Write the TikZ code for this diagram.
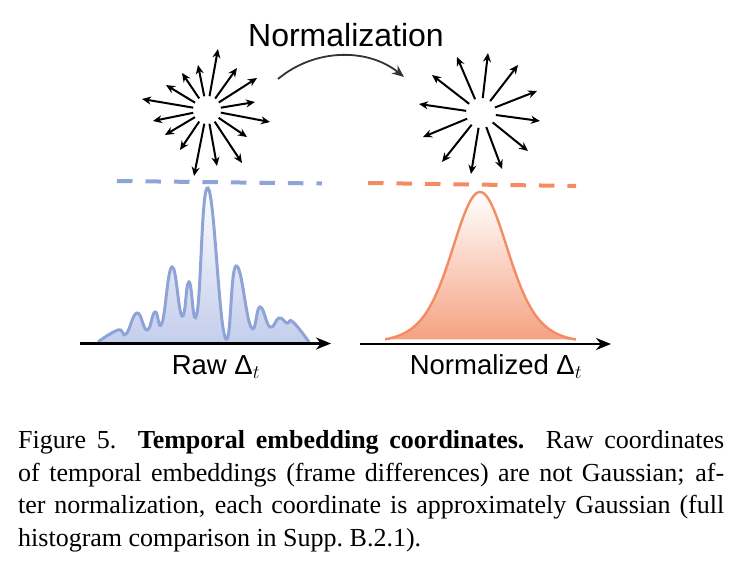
\documentclass[tikz,border=0pt]{standalone}
\usepackage{fix-cm}
\usepackage{fontspec}
\setmainfont{Liberation Serif}
\newfontfamily\labelsans{Liberation Sans}
\usetikzlibrary{arrows.meta,calc}

\definecolor{rawblue}{HTML}{8EA3D6}
\definecolor{rawfill}{HTML}{C0CAEA}
\definecolor{normorange}{HTML}{F48C63}
\definecolor{normfill}{HTML}{F5A283}
\definecolor{arcgray}{HTML}{333333}

\begin{document}
\begin{tikzpicture}[x=1pt,y=-1pt,
    ray/.style={line width=2pt,-{Stealth[length=9pt,width=8pt]}},
    axis/.style={line width=2.8pt,-{Stealth[length=15pt,width=12pt]}},
    level/.style={line width=4pt,dash pattern=on 15.5pt off 13pt},
    lab/.style={font=\labelsans\fontsize{27.5}{32}\selectfont,inner sep=0pt,anchor=base}]
    \useasboundingbox (0,0) rectangle (740,570);

    \node[lab,font=\labelsans\fontsize{32}{36}\selectfont] (title) at (346,46.7) {Normalization};

    \coordinate (raw c) at (207,110);
    \coordinate (norm c) at (481,113);
    \foreach \dx/\dy [count=\i] in {11/-61, -9/-45, -25/-37, -41/-25, -65/-11, -54/11,
        -42/25, -27/40, -13/66, 10/56, 35/53, 40/27, 63/12, 48/-8, 50/-32, 30/-42}
    {
        \coordinate (raw tip\i) at ($(raw c)+(\dx,\dy)$);
        \draw[ray] ($(raw c)!14pt!(raw tip\i)$) -- (raw tip\i);
    }
    \foreach \dx/\dy [count=\i] in {7/-60, -24/-56, -49/-38, -62/-9, -58/24, -39/49,
        -10/61, 21/56, 47/38, 59/8, 56/-22, 37/-48}
    {
        \coordinate (norm tip\i) at ($(norm c)+(\dx,\dy)$);
        \draw[ray] ($(norm c)!15pt!(norm tip\i)$) -- (norm tip\i);
    }

    \coordinate (arc from) at (278,79);
    \coordinate (arc to) at (404,77);
    \draw[arcgray,line width=1.8pt,-{Stealth[length=12pt,width=10pt]}]
        (arc from) .. controls (315,48) and (368,48) .. (arc to);

    \draw[level,rawblue] (117,181) -- (322,183.5);
    \draw[level,normorange] (368,183) -- (576,186);

    \shade[top color=white,bottom color=rawfill] plot[smooth,tension=0.8] coordinates {
        (98,342) (118,330) (126,334) (137,313) (147,330) (155,312) (162,323)
        (172,267) (182,316) (189,282) (197,313) (208,188) (225,337) (236,266)
        (251,327) (260,307) (270,327) (279,318) (287,323) (293,322) (309,342)} -- cycle;
    \draw[rawblue,line width=3pt] plot[smooth,tension=0.8] coordinates {
        (98,342) (118,330) (126,334) (137,313) (147,330) (155,312) (162,323)
        (172,267) (182,316) (189,282) (197,313) (208,188) (225,337) (236,266)
        (251,327) (260,307) (270,327) (279,318) (287,323) (293,322) (309,342)};

    \shade[top color=white,bottom color=normfill] plot[domain=385:576,samples=120]
        (\x,{342-150*(0.6*exp(-((\x-480)/24)^2/2)+0.4*exp(-((\x-480)/38)^2/2))}) -- cycle;
    \draw[normorange,line width=2.4pt] plot[domain=385:576,samples=120]
        (\x,{342-150*(0.6*exp(-((\x-480)/24)^2/2)+0.4*exp(-((\x-480)/38)^2/2))});

    \coordinate (raw o) at (80,343.5);
    \coordinate (raw end) at (331,343.5);
    \coordinate (norm o) at (360,344);
    \coordinate (norm end) at (611,344);
    \draw[axis] (raw o) -- (raw end);
    \draw[axis] (norm o) -- (norm end);

    \node[lab] (raw label) at (216,374) {Raw Δ$_t$};
    \node[lab] (norm label) at (496,374) {Normalized Δ$_t$};

    \node[anchor=base west,inner sep=0pt,text width=706pt,align=justify,
        font=\fontsize{26}{32.7}\selectfont] (caption) at (18,448.3) {%
        Figure 5.\ \ \textbf{Temporal embedding coordinates.}\ \ Raw coordinates\linebreak
        of temporal embeddings (frame differences) are not Gaussian; af-\linebreak
        ter normalization, each coordinate is approximately Gaussian (full\linebreak
        histogram comparison in Supp.~B.2.1).};
\end{tikzpicture}
\end{document}
